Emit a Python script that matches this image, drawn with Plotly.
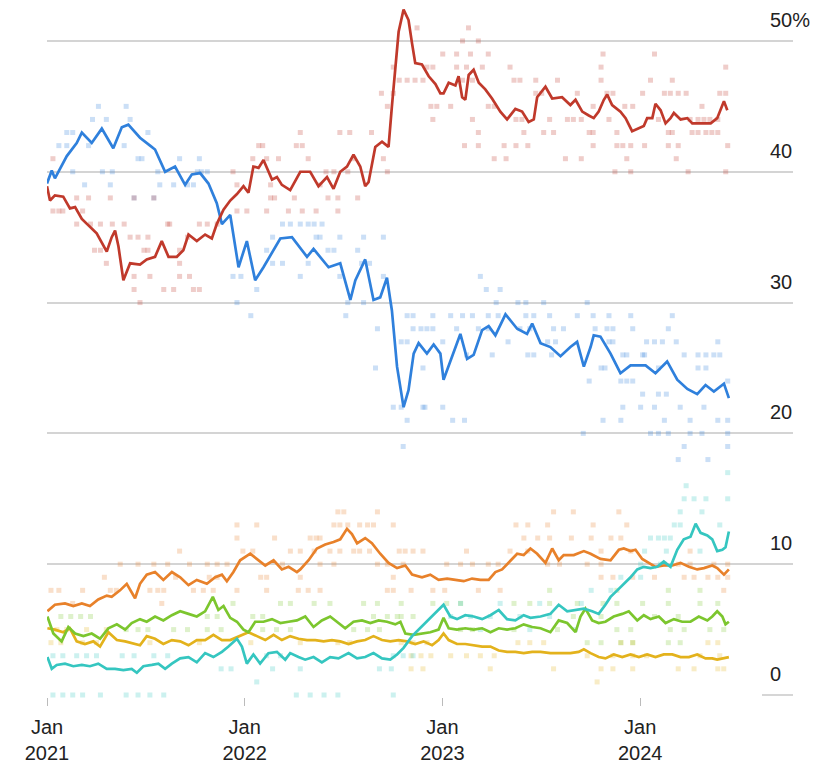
import numpy as np
import pandas as pd
import plotly.graph_objects as go

# Smoothed poll averages, (decimal year, %)
lab_line = [
    (2021.000, 38.9), (2021.015, 37.8), (2021.040, 38.2), (2021.082, 38.1), (2021.116, 37.2),
    (2021.142, 37.3), (2021.176, 36.4), (2021.217, 35.8), (2021.251, 35.3), (2021.302, 33.9),
    (2021.327, 35.0), (2021.344, 35.5), (2021.361, 34.3), (2021.386, 31.7), (2021.420, 33.0),
    (2021.470, 32.9), (2021.504, 33.3), (2021.546, 33.5), (2021.580, 34.7), (2021.614, 33.5),
    (2021.656, 33.5), (2021.689, 34.0), (2021.715, 35.2), (2021.757, 34.7), (2021.799, 35.2),
    (2021.833, 34.9), (2021.858, 36.0), (2021.892, 37.1), (2021.926, 37.8), (2021.960, 38.3),
    (2021.993, 38.9), (2022.018, 38.4), (2022.043, 40.4), (2022.069, 40.3), (2022.094, 40.9),
    (2022.137, 39.4), (2022.162, 39.6), (2022.187, 39.0), (2022.229, 38.6), (2022.280, 40.0),
    (2022.330, 40.0), (2022.372, 38.9), (2022.415, 39.6), (2022.448, 38.7), (2022.482, 40.0),
    (2022.516, 40.4), (2022.549, 41.3), (2022.583, 40.4), (2022.608, 38.9), (2022.625, 39.2),
    (2022.659, 41.9), (2022.693, 42.3), (2022.726, 41.9), (2022.743, 45.0), (2022.760, 48.0),
    (2022.777, 50.7), (2022.802, 52.4), (2022.827, 51.6), (2022.845, 49.8), (2022.861, 48.3),
    (2022.895, 48.2), (2022.929, 47.3), (2022.963, 46.7), (2022.988, 46.0), (2023.004, 46.0),
    (2023.030, 46.8), (2023.064, 46.6), (2023.080, 47.3), (2023.098, 45.7), (2023.114, 45.5),
    (2023.131, 47.4), (2023.156, 47.8), (2023.182, 46.8), (2023.215, 46.3), (2023.249, 45.6),
    (2023.291, 44.6), (2023.325, 44.0), (2023.367, 44.8), (2023.401, 44.6), (2023.434, 43.8),
    (2023.460, 44.0), (2023.477, 45.7), (2023.519, 46.5), (2023.553, 45.6), (2023.603, 45.7),
    (2023.645, 45.1), (2023.671, 45.5), (2023.705, 44.6), (2023.738, 44.3), (2023.763, 44.1),
    (2023.788, 44.6), (2023.814, 45.5), (2023.831, 45.9), (2023.856, 45.1), (2023.898, 44.6),
    (2023.924, 44.1), (2023.957, 43.1), (2023.991, 43.3), (2024.016, 43.5), (2024.033, 44.1),
    (2024.059, 44.1), (2024.075, 45.2), (2024.101, 44.7), (2024.126, 43.7), (2024.151, 44.1),
    (2024.168, 44.5), (2024.202, 44.0), (2024.236, 44.1), (2024.261, 43.7), (2024.303, 43.7),
    (2024.354, 43.7), (2024.387, 44.1), (2024.421, 45.4), (2024.438, 44.7),
]

con_line = [
    (2021.000, 39.1), (2021.024, 40.1), (2021.040, 39.5), (2021.100, 41.2), (2021.150, 42.2),
    (2021.176, 43.0), (2021.226, 42.2), (2021.277, 43.3), (2021.335, 41.8), (2021.378, 43.4),
    (2021.411, 43.6), (2021.470, 42.6), (2021.521, 42.0), (2021.546, 41.7), (2021.597, 40.0),
    (2021.647, 40.4), (2021.698, 39.0), (2021.732, 39.8), (2021.774, 39.9), (2021.816, 39.1),
    (2021.858, 37.6), (2021.884, 36.0), (2021.926, 36.7), (2021.968, 32.7), (2022.010, 34.7),
    (2022.052, 31.7), (2022.094, 32.7), (2022.179, 34.9), (2022.238, 35.0), (2022.314, 33.5),
    (2022.347, 34.1), (2022.423, 32.7), (2022.482, 33.0), (2022.533, 30.2), (2022.558, 31.7),
    (2022.608, 33.3), (2022.650, 30.2), (2022.684, 30.4), (2022.718, 31.9), (2022.743, 29.4),
    (2022.769, 25.1), (2022.802, 22.0), (2022.827, 23.3), (2022.853, 26.1), (2022.878, 26.9),
    (2022.920, 26.1), (2022.954, 26.8), (2022.988, 26.1), (2023.004, 24.1), (2023.064, 26.6),
    (2023.089, 27.6), (2023.123, 25.7), (2023.156, 26.0), (2023.199, 27.9), (2023.232, 28.2),
    (2023.266, 27.5), (2023.317, 29.1), (2023.376, 28.0), (2023.426, 27.6), (2023.452, 28.4),
    (2023.494, 26.9), (2023.544, 26.6), (2023.595, 25.9), (2023.645, 26.6), (2023.679, 27.0),
    (2023.713, 25.1), (2023.747, 26.6), (2023.763, 27.5), (2023.797, 27.4), (2023.848, 26.1),
    (2023.898, 24.6), (2023.949, 25.2), (2024.025, 25.2), (2024.075, 24.6), (2024.134, 25.5),
    (2024.185, 24.1), (2024.236, 23.4), (2024.286, 23.0), (2024.328, 23.7), (2024.370, 23.2),
    (2024.421, 23.8), (2024.446, 22.7),
]

ld_line = [
    (2021.002, 6.4), (2021.040, 6.9), (2021.091, 7.0), (2021.133, 6.8), (2021.176, 7.0),
    (2021.217, 6.8), (2021.259, 7.3), (2021.302, 7.6), (2021.327, 7.5), (2021.369, 8.0),
    (2021.403, 8.5), (2021.445, 7.4), (2021.470, 8.5), (2021.504, 9.2), (2021.546, 9.4),
    (2021.588, 8.8), (2021.631, 9.4), (2021.673, 9.0), (2021.715, 8.4), (2021.757, 8.8),
    (2021.808, 8.5), (2021.850, 9.0), (2021.884, 9.2), (2021.909, 8.7), (2021.942, 9.4),
    (2021.976, 10.3), (2022.027, 10.8), (2022.069, 10.3), (2022.103, 9.9), (2022.145, 10.3),
    (2022.187, 9.6), (2022.221, 9.8), (2022.263, 9.4), (2022.280, 9.6), (2022.322, 10.3),
    (2022.364, 11.2), (2022.406, 11.5), (2022.448, 11.7), (2022.482, 11.9), (2022.516, 12.7),
    (2022.541, 12.3), (2022.567, 11.6), (2022.608, 12.0), (2022.642, 11.6), (2022.684, 10.8),
    (2022.726, 10.1), (2022.769, 9.7), (2022.811, 9.9), (2022.845, 9.2), (2022.895, 9.0),
    (2022.937, 9.2), (2022.979, 8.8), (2023.022, 8.9), (2023.064, 8.8), (2023.106, 8.7),
    (2023.148, 8.9), (2023.190, 8.8), (2023.232, 8.8), (2023.266, 9.4), (2023.300, 9.6),
    (2023.333, 10.1), (2023.376, 10.8), (2023.409, 10.7), (2023.443, 11.2), (2023.477, 10.8),
    (2023.519, 10.1), (2023.553, 11.2), (2023.586, 10.3), (2023.611, 10.7), (2023.662, 10.7),
    (2023.713, 11.0), (2023.747, 10.8), (2023.797, 10.4), (2023.848, 10.3), (2023.890, 11.1),
    (2023.915, 11.2), (2023.949, 11.0), (2023.974, 11.1), (2024.008, 10.4), (2024.041, 10.1),
    (2024.075, 9.8), (2024.117, 9.9), (2024.160, 9.9), (2024.202, 10.1), (2024.244, 9.8),
    (2024.286, 9.6), (2024.320, 9.7), (2024.362, 9.9), (2024.387, 9.7), (2024.421, 9.2),
    (2024.446, 9.6),
]

grn_line = [
    (2021.002, 6.0), (2021.032, 4.7), (2021.074, 4.1), (2021.108, 5.2), (2021.142, 4.7),
    (2021.184, 4.5), (2021.226, 4.7), (2021.268, 4.3), (2021.310, 5.1), (2021.353, 5.4),
    (2021.395, 5.0), (2021.428, 5.5), (2021.470, 5.8), (2021.504, 5.6), (2021.546, 6.0),
    (2021.588, 5.7), (2021.631, 6.1), (2021.673, 6.4), (2021.715, 6.2), (2021.757, 6.0),
    (2021.799, 6.4), (2021.838, 7.5), (2021.866, 6.5), (2021.892, 6.8), (2021.926, 5.9),
    (2021.960, 5.6), (2021.993, 5.0), (2022.018, 4.8), (2022.052, 5.6), (2022.094, 5.6),
    (2022.137, 5.8), (2022.179, 5.5), (2022.221, 5.6), (2022.263, 5.7), (2022.305, 6.0),
    (2022.347, 5.2), (2022.389, 5.7), (2022.431, 6.0), (2022.473, 5.5), (2022.507, 5.1),
    (2022.549, 5.6), (2022.592, 5.7), (2022.634, 5.5), (2022.676, 5.7), (2022.718, 5.6),
    (2022.760, 5.4), (2022.786, 5.6), (2022.811, 4.7), (2022.853, 4.6), (2022.895, 4.7),
    (2022.937, 4.8), (2022.979, 5.0), (2023.004, 5.9), (2023.030, 5.1), (2023.072, 5.0),
    (2023.114, 5.1), (2023.156, 5.0), (2023.199, 5.1), (2023.241, 4.8), (2023.283, 5.1),
    (2023.325, 5.0), (2023.367, 5.1), (2023.409, 5.4), (2023.452, 5.2), (2023.494, 5.1),
    (2023.544, 4.8), (2023.586, 5.7), (2023.629, 5.5), (2023.671, 4.8), (2023.696, 6.0),
    (2023.721, 6.6), (2023.755, 5.7), (2023.788, 5.5), (2023.822, 5.6), (2023.864, 6.0),
    (2023.907, 6.2), (2023.940, 6.4), (2023.983, 5.7), (2024.016, 6.1), (2024.050, 5.8),
    (2024.092, 6.0), (2024.126, 5.5), (2024.168, 5.8), (2024.210, 5.6), (2024.252, 5.6),
    (2024.294, 6.0), (2024.337, 5.7), (2024.362, 6.0), (2024.387, 6.4), (2024.413, 6.0),
    (2024.429, 5.4), (2024.446, 5.6),
]

snp_line = [
    (2021.002, 5.1), (2021.040, 5.0), (2021.082, 4.8), (2021.116, 5.1), (2021.150, 4.1),
    (2021.192, 3.9), (2021.234, 4.1), (2021.268, 3.7), (2021.310, 4.8), (2021.353, 4.2),
    (2021.395, 4.1), (2021.437, 3.9), (2021.470, 3.8), (2021.504, 4.5), (2021.546, 4.3),
    (2021.588, 3.9), (2021.631, 4.2), (2021.673, 4.1), (2021.715, 3.8), (2021.757, 4.2),
    (2021.799, 4.2), (2021.841, 4.6), (2021.884, 4.2), (2021.926, 4.2), (2021.976, 4.5),
    (2022.018, 4.8), (2022.061, 4.5), (2022.103, 4.2), (2022.145, 4.6), (2022.187, 4.2),
    (2022.229, 4.5), (2022.271, 4.3), (2022.314, 4.2), (2022.356, 4.2), (2022.398, 4.1),
    (2022.440, 4.2), (2022.482, 4.1), (2022.524, 3.9), (2022.567, 4.1), (2022.608, 4.2),
    (2022.650, 4.5), (2022.693, 4.2), (2022.735, 4.1), (2022.777, 4.2), (2022.819, 4.1),
    (2022.861, 3.9), (2022.903, 4.1), (2022.946, 3.8), (2022.979, 4.2), (2023.004, 4.7),
    (2023.030, 4.2), (2023.072, 3.9), (2023.114, 3.9), (2023.156, 3.8), (2023.199, 3.7),
    (2023.241, 3.7), (2023.283, 3.4), (2023.325, 3.3), (2023.367, 3.3), (2023.409, 3.2),
    (2023.452, 3.3), (2023.494, 3.3), (2023.544, 3.2), (2023.595, 3.2), (2023.645, 3.2),
    (2023.687, 3.3), (2023.713, 3.5), (2023.747, 3.2), (2023.788, 2.9), (2023.822, 2.8),
    (2023.864, 3.1), (2023.907, 2.9), (2023.949, 3.1), (2023.991, 2.9), (2024.033, 3.1),
    (2024.075, 2.9), (2024.117, 3.1), (2024.160, 3.1), (2024.202, 2.9), (2024.244, 2.9),
    (2024.286, 3.1), (2024.328, 2.8), (2024.362, 2.8), (2024.387, 2.7), (2024.413, 2.8),
    (2024.446, 2.9),
]

ref_line = [
    (2021.002, 2.9), (2021.024, 2.0), (2021.049, 2.3), (2021.091, 2.4), (2021.133, 2.2),
    (2021.176, 2.3), (2021.217, 2.2), (2021.259, 2.4), (2021.302, 2.0), (2021.344, 2.0),
    (2021.386, 1.9), (2021.428, 2.0), (2021.454, 1.7), (2021.487, 2.2), (2021.530, 2.3),
    (2021.563, 2.4), (2021.597, 2.0), (2021.631, 2.4), (2021.673, 2.8), (2021.715, 2.9),
    (2021.757, 2.5), (2021.799, 3.2), (2021.841, 2.9), (2021.884, 3.3), (2021.917, 3.7),
    (2021.960, 4.3), (2021.985, 3.7), (2022.010, 2.4), (2022.043, 3.1), (2022.077, 2.4),
    (2022.119, 3.2), (2022.162, 3.3), (2022.204, 2.7), (2022.229, 3.2), (2022.271, 2.9),
    (2022.305, 2.7), (2022.347, 2.9), (2022.389, 2.5), (2022.431, 2.9), (2022.473, 2.8),
    (2022.524, 3.2), (2022.567, 2.8), (2022.608, 2.9), (2022.650, 3.2), (2022.693, 2.8),
    (2022.735, 2.7), (2022.769, 3.1), (2022.802, 3.6), (2022.845, 4.5), (2022.878, 5.0),
    (2022.912, 5.5), (2022.946, 6.0), (2022.979, 6.5), (2023.004, 6.9), (2023.038, 6.0),
    (2023.072, 5.8), (2023.114, 6.1), (2023.156, 6.0), (2023.199, 5.8), (2023.241, 6.1),
    (2023.283, 6.5), (2023.325, 5.8), (2023.367, 5.7), (2023.409, 6.1), (2023.443, 5.9),
    (2023.494, 6.0), (2023.544, 6.2), (2023.586, 6.9), (2023.629, 6.4), (2023.671, 6.5),
    (2023.713, 6.6), (2023.755, 6.4), (2023.788, 6.2), (2023.822, 6.9), (2023.848, 7.5),
    (2023.882, 8.0), (2023.915, 8.5), (2023.949, 9.0), (2023.983, 9.6), (2024.016, 9.8),
    (2024.050, 9.7), (2024.084, 9.8), (2024.117, 10.2), (2024.151, 9.8), (2024.185, 11.1),
    (2024.218, 11.9), (2024.252, 12.1), (2024.278, 13.1), (2024.303, 12.4), (2024.337, 12.2),
    (2024.362, 11.9), (2024.387, 11.0), (2024.413, 11.1), (2024.429, 11.3), (2024.446, 12.5),
]

# Individual polls: value -> list of decimal years
lab_polls = {
    53: [2022.77, 2022.81],
    51: [2022.87, 2023.13],
    50: [2023.10, 2023.18],
    49: [2023.00, 2023.07, 2023.14, 2023.23, 2023.81, 2024.07],
    48: [2022.75, 2022.92, 2022.95, 2023.07, 2023.12, 2023.20, 2023.34, 2023.80, 2024.43],
    47: [2022.78, 2022.82, 2022.86, 2022.90, 2023.10, 2023.15, 2023.36, 2023.39, 2023.47,
         2023.58, 2023.80, 2024.05, 2024.16],
    46: [2022.69, 2022.75, 2023.47, 2023.50, 2023.68, 2023.83, 2023.86, 2024.01, 2024.12,
         2024.15, 2024.19, 2024.23, 2024.40, 2024.43],
    45: [2022.72, 2022.94, 2022.97, 2023.04, 2023.23, 2023.26, 2023.76, 2023.92, 2023.96, 2024.31],
    44: [2022.95, 2023.15, 2023.37, 2023.40, 2023.54, 2023.63, 2023.66, 2023.70, 2023.84,
         2024.09, 2024.25, 2024.29, 2024.32, 2024.35, 2024.39],
    43: [2022.28, 2022.48, 2022.53, 2022.64, 2023.18, 2023.41, 2023.51, 2023.56, 2023.74,
         2023.76, 2023.88, 2024.14, 2024.16, 2024.26, 2024.29, 2024.33, 2024.36, 2024.39],
    42: [2022.07, 2022.09, 2022.26, 2022.29, 2023.11, 2023.18, 2023.31, 2023.37, 2023.43,
         2023.76, 2023.88, 2023.91, 2023.95, 2024.02, 2024.14, 2024.19, 2024.44],
    41: [2021.03, 2022.04, 2022.11, 2022.17, 2022.32, 2022.55, 2022.70, 2023.26, 2023.32,
         2023.62, 2023.70, 2023.93, 2024.18],
    40: [2021.94, 2022.41, 2022.45, 2022.52, 2022.72, 2023.87, 2023.95, 2024.24, 2024.43],
    39: [2021.96, 2022.13, 2022.38],
    38: [2021.15, 2021.21, 2021.32, 2021.44, 2021.54, 2022.13, 2022.15, 2022.25, 2022.42,
         2022.47, 2022.57],
    37: [2021.03, 2021.06, 2021.08, 2021.18, 2021.96, 2022.01, 2022.11, 2022.22, 2022.29,
         2022.36, 2022.47],
    36: [2021.15, 2021.22, 2021.27, 2021.33, 2021.39, 2021.61, 2021.62, 2021.77, 2021.81, 2021.86],
    35: [2021.42, 2021.46, 2021.51, 2021.71],
    34: [2021.24, 2021.27, 2021.49, 2021.51, 2021.67],
    33: [2021.30, 2021.67],
    32: [2021.44, 2021.52, 2021.67, 2021.72],
    31: [2021.44, 2021.59, 2021.64, 2021.74, 2021.77],
    30: [2021.47],
}

con_polls = {
    45: [2021.26, 2021.40],
    44: [2021.23, 2021.30, 2021.42],
    43: [2021.10, 2021.13, 2021.51],
    42: [2021.06, 2021.10, 2021.21, 2021.39],
    41: [2021.46, 2021.48, 2021.67, 2021.77],
    40: [2021.13, 2021.28, 2021.33, 2021.56, 2021.76, 2021.78, 2021.81],
    39: [2021.19, 2021.32, 2021.57, 2021.64, 2021.71, 2021.74],
    38: [2021.44, 2021.54],
    36: [2022.19, 2022.23, 2022.28, 2022.32, 2022.35, 2022.39],
    35: [2022.14, 2022.36, 2022.38, 2022.48, 2022.60, 2022.70],
    34: [2022.11, 2022.42, 2022.45, 2022.57],
    33: [2022.14, 2022.19, 2022.32, 2022.59, 2022.63],
    32: [2021.94, 2021.98, 2022.28, 2022.48, 2022.70, 2023.19],
    31: [2022.06, 2023.22, 2023.29],
    30: [2021.96, 2022.52, 2022.60, 2023.27, 2023.38, 2023.42, 2023.51, 2023.73],
    29: [2022.03, 2022.51, 2022.82, 2022.85, 2022.95, 2023.04, 2023.10, 2023.15, 2023.23,
         2023.28, 2023.42, 2023.46, 2023.54, 2023.68, 2023.76, 2023.84, 2023.95, 2024.16],
    28: [2022.67, 2022.85, 2022.89, 2022.92, 2022.95, 2023.07, 2023.18, 2023.23, 2023.39,
         2023.44, 2023.56, 2023.61, 2023.77, 2023.83, 2023.86, 2023.96, 2024.14],
    27: [2022.79, 2022.82, 2023.00, 2023.33, 2023.53, 2023.57, 2023.84, 2023.86, 2024.03,
         2024.07, 2024.11, 2024.18, 2024.39],
    26: [2023.12, 2023.25, 2023.43, 2023.46, 2023.55, 2023.91, 2023.93, 2024.01, 2024.02,
         2024.22, 2024.29, 2024.33, 2024.37, 2024.40],
    25: [2022.66, 2022.90, 2023.80, 2023.82, 2024.09, 2024.29, 2024.33],
    24: [2023.74, 2023.90, 2023.93, 2023.96, 2024.44],
    23: [2024.01, 2024.09, 2024.13],
    22: [2022.75, 2022.79, 2022.90, 2022.91, 2023.00, 2023.91, 2024.00, 2024.07, 2024.20, 2024.32],
    21: [2022.82, 2023.05, 2023.11, 2023.81, 2023.90, 2024.12, 2024.25, 2024.39, 2024.44],
    20: [2023.71, 2024.05, 2024.09, 2024.14, 2024.25, 2024.31, 2024.44],
    19: [2022.80, 2024.22, 2024.44],
    18: [2024.19, 2024.34],
}

ld_polls = {
    14: [2022.47, 2022.50, 2022.67, 2023.56, 2023.66, 2023.89],
    13: [2021.96, 2022.06, 2022.45, 2022.48, 2022.52, 2022.58, 2022.62, 2022.65, 2022.75,
         2023.37, 2023.43, 2023.53, 2023.76, 2023.93],
    12: [2021.96, 2022.15, 2022.33, 2022.36, 2022.38, 2023.41, 2023.48, 2023.54, 2023.65,
         2023.75, 2023.85, 2023.90],
    11: [2021.67, 2021.99, 2022.04, 2022.23, 2022.28, 2022.35, 2022.43, 2022.48, 2022.55,
         2022.58, 2022.63, 2022.78, 2022.81, 2022.85, 2022.90, 2023.12, 2023.34, 2023.43,
         2023.80, 2023.95, 2024.25],
    10: [2021.37, 2021.46, 2021.54, 2021.61, 2021.72, 2021.81, 2021.86, 2021.91, 2022.19,
         2022.38, 2022.45, 2022.67, 2022.72, 2022.80, 2023.02, 2023.09, 2023.15, 2023.23,
         2023.28, 2023.53, 2023.59, 2023.73, 2023.80, 2024.12, 2024.19, 2024.25, 2024.37, 2024.44],
    9: [2021.29, 2021.65, 2021.82, 2021.86, 2022.08, 2022.11, 2022.28, 2022.75, 2023.80,
        2023.86, 2023.96, 2024.07, 2024.22, 2024.27, 2024.34, 2024.39, 2024.44],
    8: [2021.02, 2021.06, 2021.18, 2021.32, 2021.35, 2021.52, 2021.56, 2021.59, 2021.74,
        2021.79, 2021.84, 2021.96, 2022.11, 2022.27, 2022.32, 2022.38, 2022.72, 2022.75,
        2022.84, 2022.95, 2023.01, 2023.18, 2023.29, 2024.42],
    7: [2021.13, 2021.58],
}

grn_polls = {
    8: [2023.54, 2023.88, 2024.14, 2024.30],
    7: [2021.94, 2022.18, 2022.23, 2022.35, 2022.43, 2022.60, 2022.67, 2022.79, 2022.95,
        2023.02, 2023.09, 2023.36, 2023.44, 2023.54, 2023.68, 2023.81, 2023.88, 2024.01,
        2024.14, 2024.30, 2024.39],
    6: [2021.07, 2021.12, 2021.17, 2021.22, 2021.81, 2021.86, 2022.04, 2022.09, 2022.65,
        2022.72, 2022.77, 2022.79, 2022.85, 2023.66, 2023.80, 2024.07, 2024.19],
    5: [2021.40, 2021.46, 2021.51, 2021.64, 2021.71, 2021.81, 2021.88, 2022.09, 2022.16,
        2022.23, 2022.55, 2022.62, 2022.68, 2023.09, 2023.15, 2023.36, 2023.58, 2023.88,
        2023.95, 2024.15, 2024.22, 2024.35, 2024.42],
    4: [2023.73, 2023.80, 2023.90, 2023.96, 2024.14, 2024.20],
}

snp_polls = {
    5: [2021.05, 2021.10, 2021.20, 2021.30],
    4: [2021.02, 2021.07, 2021.18, 2021.25, 2021.52, 2021.77, 2022.03, 2022.28, 2022.47,
        2022.53, 2022.79, 2022.85, 2022.92, 2023.38, 2023.44, 2023.51, 2023.90, 2023.96,
        2024.34, 2024.39],
    3: [2022.84, 2022.89, 2022.94, 2023.04, 2023.12, 2023.19, 2023.26, 2023.73, 2023.86,
        2023.96, 2024.03, 2024.30, 2024.40],
    2: [2022.84, 2022.90, 2023.24, 2023.56, 2023.80, 2023.86, 2023.96, 2024.19, 2024.27,
        2024.39, 2024.42],
    1: [2023.78],
}

ref_polls = {
    17: [2024.44],
    16: [2024.23],
    15: [2024.22, 2024.27, 2024.33, 2024.44],
    14: [2024.20, 2024.31],
    13: [2024.17, 2024.20, 2024.40],
    12: [2024.05, 2024.09, 2024.12, 2024.15],
    11: [2024.02, 2024.13, 2024.30],
    10: [2024.00, 2024.10],
    9: [2023.90, 2024.00],
    8: [2023.75, 2023.85],
    7: [2023.09, 2023.29, 2023.49, 2023.70],
    6: [2023.04, 2023.14, 2023.24, 2023.39, 2023.54],
    5: [2023.19, 2023.44, 2023.67],
    3: [2021.03, 2021.08, 2021.15, 2021.20, 2021.25, 2021.38, 2021.44, 2021.54, 2021.61,
        2022.11, 2022.18, 2022.75, 2022.80, 2022.85],
    2: [2021.88, 2021.93, 2022.14, 2022.28, 2022.68, 2022.74],
    1: [2022.06],
    0: [2021.03, 2021.08, 2021.13, 2021.18, 2021.27, 2021.40, 2021.46, 2021.52, 2021.59,
        2022.26, 2022.33, 2022.40, 2022.47, 2022.75],
}

year_ticks = [2021, 2022, 2023, 2024]
pct_ticks = [0, 10, 20, 30, 40, 50]

parties = [
    # name, line, polls, colour
    ("SNP", snp_line, snp_polls, "#e3b21c"),
    ("Green", grn_line, grn_polls, "#7cc62e"),
    ("Lib Dem", ld_line, ld_polls, "#e8812a"),
    ("Reform", ref_line, ref_polls, "#35c6c0"),
    ("Conservative", con_line, con_polls, "#2f80dc"),
    ("Labour", lab_line, lab_polls, "#c0392b"),
]

START = pd.Timestamp("2021-01-01")


def to_dates(years):
    years = np.asarray(years, dtype=float)
    return START + pd.to_timedelta((years - 2021) * 365.25, unit="D")


fig = go.Figure()

# faint dots for every poll first, lines on top
for name, line, polls, colour in parties:
    px_, py_ = [], []
    for val, yrs in polls.items():
        px_ += yrs
        py_ += [val] * len(yrs)
    fig.add_trace(go.Scatter(
        x=to_dates(px_), y=py_, mode="markers",
        marker=dict(symbol="square", size=5, color=colour, opacity=0.25),
        cliponaxis=False, showlegend=False, hoverinfo="skip",
    ))

for name, line, polls, colour in parties:
    t, v = zip(*line)
    fig.add_trace(go.Scatter(
        x=to_dates(t), y=v, mode="lines", name=name,
        line=dict(color=colour, width=2.7),
        cliponaxis=False, showlegend=False,
    ))

# right-hand value labels sit just above their gridlines
for p in pct_ticks:
    fig.add_annotation(
        x=0.9665, xref="paper", y=p + 1.6, yref="y",
        text=f"{p}%" if p == 50 else str(p), showarrow=False,
        xanchor="left", yanchor="middle",
        font=dict(family="Arial, Liberation Sans, sans-serif", size=20, color="#222"),
    )

# short baseline at zero on the right only
fig.add_shape(type="line", xref="paper", yref="y", x0=0.9584, x1=1.0, y0=0, y1=0,
              line=dict(color="#c8c8c8", width=1.5))

# page body has an 8px margin, so the figure is sized to fit inside it
fig.update_layout(
    width=813, height=757,
    margin=dict(l=39, r=28, t=0, b=68),
    plot_bgcolor="white", paper_bgcolor="white",
    xaxis=dict(
        range=["2021-01-01", "2024-10-09"],
        tickvals=[pd.Timestamp(f"{y}-01-01") for y in year_ticks],
        ticktext=[f"Jan<br>{y}" for y in year_ticks],
        ticks="outside", ticklen=8, tickcolor="#bbbbbb", tickwidth=1,
        ticklabelstandoff=4,
        tickfont=dict(family="Arial, Liberation Sans, sans-serif", size=20, color="#222"),
        showgrid=False, zeroline=False, showline=False,
    ),
    yaxis=dict(
        range=[-0.153, 52.52],
        tickvals=[10, 20, 30, 40, 50],
        showticklabels=False,
        showgrid=True, gridcolor="#d4d4d4", gridwidth=1.5,
        zeroline=False, showline=False,
    ),
)

fig.write_html("out.html")
